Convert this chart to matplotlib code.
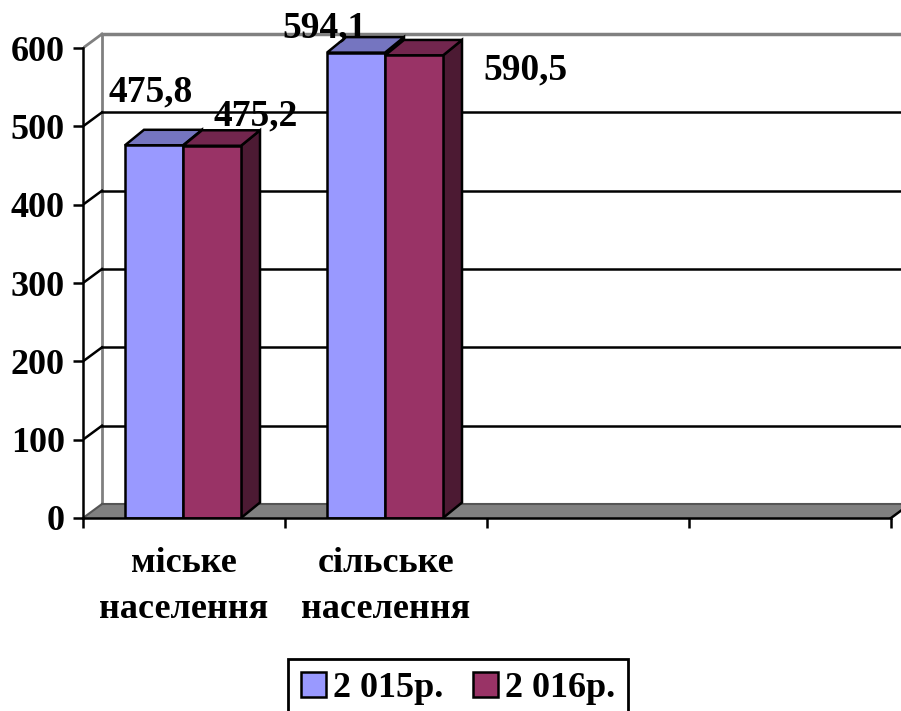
import matplotlib
matplotlib.use('Agg')
import matplotlib.pyplot as plt
from matplotlib.patches import Polygon, Patch

# ---------------- data ----------------
categories = ['міське\nнаселення', 'сільське\nнаселення', '', '']
series_names = ['2 015р.', '2 016р.']
values_2015 = [475.8, 594.1]
values_2016 = [475.2, 590.5]
labels_2015 = ['475,8', '594,1']
labels_2016 = ['475,2', '590,5']
y_ticks = [0, 100, 200, 300, 400, 500, 600]

# ---------------- style / layout ----------------
FONT = 'Liberation Serif'
FS = 26
FS_LBL = 27
front_colors = ['#9999FF', '#993366']
top_colors = ['#7575C0', '#72264E']
side_colors = ['#5C5C99', '#4C1A33']
GRAY = '#808080'

W, H = 901, 711
X0PX, Y0PX = 83, 518          # front origin in pixels
PX_PER_CAT = 202
PX_PER_VAL = 470 / 600

fig = plt.figure(figsize=(W / 100, H / 100), dpi=100)
ax = fig.add_axes([X0PX / W, 1 - Y0PX / H, (W - X0PX) / W, Y0PX / H])
ax.set_xlim(0, (W - X0PX) / PX_PER_CAT)
ax.set_ylim(0, Y0PX / PX_PER_VAL)

ncat = len(categories)
ymax = y_ticks[-1]
wall_dx = 19 / PX_PER_CAT
wall_dy = 14 / PX_PER_VAL
bar_dx = 19 / PX_PER_CAT
bar_dy = 15.5 / PX_PER_VAL
bar_off = 42 / PX_PER_CAT
bar_w = 58 / PX_PER_CAT

# left wall + back wall gridlines
ax.plot([wall_dx, wall_dx], [wall_dy, ymax + wall_dy], color=GRAY, lw=2, zorder=1)
ax.plot([0, wall_dx], [ymax, ymax + wall_dy], color=GRAY, lw=2, zorder=1)
ax.plot([wall_dx, ncat + wall_dx], [ymax + wall_dy, ymax + wall_dy], color=GRAY, lw=2.5, zorder=1)
for v in y_ticks[1:-1]:
    ax.plot([0, wall_dx], [v, v + wall_dy], color='black', lw=1.8, zorder=1)
    ax.plot([wall_dx, ncat + wall_dx], [v + wall_dy, v + wall_dy], color='black', lw=1.8, zorder=1)

# floor
ax.add_patch(Polygon([(0, 0), (ncat, 0), (ncat + wall_dx, wall_dy), (wall_dx, wall_dy)],
                     closed=True, fc=GRAY, ec='none', zorder=2))
ax.plot([wall_dx, ncat + wall_dx], [wall_dy, wall_dy], color='#555555', lw=1.5, zorder=2)
ax.plot([0, wall_dx], [0, wall_dy], color='#555555', lw=1.5, zorder=2)
ax.plot([ncat, ncat + wall_dx], [0, wall_dy], color='black', lw=1.8, zorder=2)

# bars
series = [values_2015, values_2016]
z = 3
for i in range(len(values_2015)):
    for s, vals in enumerate(series):
        x = i + bar_off + s * bar_w
        h = vals[i]
        ax.add_patch(Polygon([(x + bar_w, 0), (x + bar_w, h), (x + bar_w + bar_dx, h + bar_dy),
                              (x + bar_w + bar_dx, bar_dy)], closed=True,
                             fc=side_colors[s], ec='black', lw=1.8, zorder=z))
        ax.add_patch(Polygon([(x, h), (x + bar_w, h), (x + bar_w + bar_dx, h + bar_dy),
                              (x + bar_dx, h + bar_dy)], closed=True,
                             fc=top_colors[s], ec='black', lw=1.8, zorder=z + 0.1))
        ax.bar(x, h, width=bar_w, align='edge', color=front_colors[s],
               edgecolor='black', linewidth=1.8, zorder=z + 0.2)
        z += 1

# data labels (offsets relative to bar left / top, in data units)
label_offsets = [
    [(-0.084, 56.5), (0.149, 26.5)],
    [(-0.223, 19.3), (0.485, -31.3)],
]
all_labels = [labels_2015, labels_2016]
for i in range(len(values_2015)):
    for s, vals in enumerate(series):
        x = i + bar_off + s * bar_w
        dxo, dyo = label_offsets[i][s]
        ax.text(x + dxo, vals[i] + dyo, all_labels[s][i], ha='left', va='baseline',
                fontsize=FS_LBL, fontweight='bold', family=FONT, zorder=20)

# axes
for sp in ['top', 'right']:
    ax.spines[sp].set_visible(False)
ax.spines['left'].set_bounds(0, ymax)
ax.spines['bottom'].set_bounds(0, ncat)
for sp in ['left', 'bottom']:
    ax.spines[sp].set_linewidth(1.8)
    ax.spines[sp].set_zorder(10)
ax.set_yticks(y_ticks)
ax.set_yticklabels([str(v) for v in y_ticks], fontsize=FS, fontweight='bold', family=FONT)
ax.tick_params(axis='y', direction='out', length=7, width=1.8, pad=6)
ax.set_xticks(range(ncat + 1))
ax.set_xticklabels([])
ax.set_xticks([i + 0.5 for i in range(ncat)], minor=True)
ax.set_xticklabels(categories, minor=True, fontsize=FS, fontweight='bold', family=FONT,
                   linespacing=1.52)
ax.tick_params(axis='x', which='minor', length=0, pad=21)
ax.tick_params(axis='x', which='major', direction='out', length=7, width=1.8)

# legend
handles = [Patch(fc=front_colors[k], ec='black', lw=1.8, label=series_names[k]) for k in range(2)]
leg = fig.legend(handles=handles, loc='upper center', bbox_to_anchor=(458 / W, 1 - 659 / H),
                 ncol=2, frameon=True, fancybox=False, edgecolor='black', framealpha=1,
                 prop={'family': FONT, 'weight': 'bold', 'size': FS},
                 handlelength=0.7, handleheight=0.7, handletextpad=0.2, columnspacing=0.8,
                 borderpad=0.35, borderaxespad=0)
leg.get_frame().set_linewidth(2.0)

fig.savefig('out.png', dpi=100)
